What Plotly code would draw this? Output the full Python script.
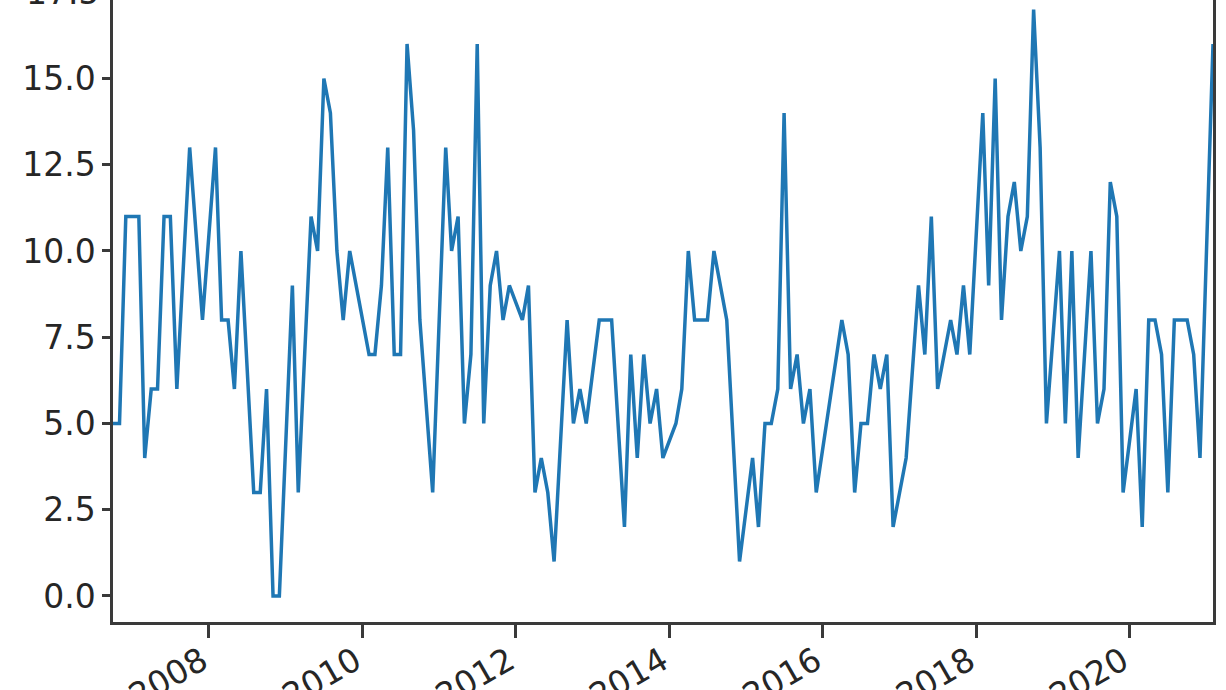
import plotly.graph_objects as go

months = [
    "2006-10", "2006-11", "2006-12", "2007-01", "2007-02", "2007-03", "2007-04", "2007-05",
    "2007-06", "2007-07", "2007-08", "2007-10", "2007-12", "2008-02", "2008-03", "2008-04",
    "2008-05", "2008-06", "2008-08", "2008-09", "2008-10", "2008-11", "2008-12", "2009-02",
    "2009-03", "2009-05", "2009-06", "2009-07", "2009-08", "2009-09", "2009-10", "2009-11",
    "2010-02", "2010-03", "2010-04", "2010-05", "2010-06", "2010-07", "2010-08", "2010-09",
    "2010-10", "2010-12", "2011-02", "2011-03", "2011-04", "2011-05", "2011-06", "2011-07",
    "2011-08", "2011-09", "2011-10", "2011-11", "2011-12", "2012-02", "2012-03", "2012-04",
    "2012-05", "2012-06", "2012-07", "2012-09", "2012-10", "2012-11", "2012-12", "2013-02",
    "2013-03", "2013-04", "2013-06", "2013-07", "2013-08", "2013-09", "2013-10", "2013-11",
    "2013-12", "2014-02", "2014-03", "2014-04", "2014-05", "2014-06", "2014-07", "2014-08",
    "2014-10", "2014-12", "2015-02", "2015-03", "2015-04", "2015-05", "2015-06", "2015-07",
    "2015-08", "2015-09", "2015-10", "2015-11", "2015-12", "2016-04", "2016-05", "2016-06",
    "2016-07", "2016-08", "2016-09", "2016-10", "2016-11", "2016-12", "2017-02", "2017-04",
    "2017-05", "2017-06", "2017-07", "2017-09", "2017-10", "2017-11", "2017-12", "2018-02",
    "2018-03", "2018-04", "2018-05", "2018-06", "2018-07", "2018-08", "2018-09", "2018-10",
    "2018-11", "2018-12", "2019-02", "2019-03", "2019-04", "2019-05", "2019-07", "2019-08",
    "2019-09", "2019-10", "2019-11", "2019-12", "2020-02", "2020-03", "2020-04", "2020-05",
    "2020-06", "2020-07", "2020-08", "2020-10", "2020-11", "2020-12", "2021-02",
]
values = [
    5, 5, 11, 11, 11, 4, 6, 6,
    11, 11, 6, 13, 8, 13, 8, 8,
    6, 10, 3, 3, 6, 0, 0, 9,
    3, 11, 10, 15, 14, 10, 8, 10,
    7, 7, 9, 13, 7, 7, 16, 13.5,
    8, 3, 13, 10, 11, 5, 7, 16,
    5, 9, 10, 8, 9, 8, 9, 3,
    4, 3, 1, 8, 5, 6, 5, 8,
    8, 8, 2, 7, 4, 7, 5, 6,
    4, 5, 6, 10, 8, 8, 8, 10,
    8, 1, 4, 2, 5, 5, 6, 14,
    6, 7, 5, 6, 3, 8, 7, 3,
    5, 5, 7, 6, 7, 2, 4, 9,
    7, 11, 6, 8, 7, 9, 7, 14,
    9, 15, 8, 11, 12, 10, 11, 17,
    13, 5, 10, 5, 10, 4, 10, 5,
    6, 12, 11, 3, 6, 2, 8, 8,
    7, 3, 8, 8, 7, 4, 16,
]
y_ticks = [0, 2.5, 5, 7.5, 10, 12.5, 15]
y_tick_text = ["0.0", "2.5", "5.0", "7.5", "10.0", "12.5", "15.0"]
cut_tick_text = "17.5"

dates = [m + "-01" for m in months]

FONT = "DejaVu Sans"
TXT = "#262626"
AX = "#3a3a3a"
FS = 33

fig = go.Figure(
    go.Scatter(
        x=dates, y=values, mode="lines",
        line=dict(color="#1f77b4", width=3.5),
        hoverinfo="x+y",
    )
)

fig.update_layout(
    template="none",
    width=1226, height=690,
    margin=dict(l=113, r=13, t=0, b=68, autoexpand=False),
    paper_bgcolor="white", plot_bgcolor="white",
    showlegend=False,
    font=dict(family=FONT, size=FS, color=TXT),
)

fig.update_xaxes(
    type="date",
    range=[dates[0], dates[-1]],
    tick0="2008-01-01", dtick="M24", tickformat="%Y",
    tickangle=-30,
    ticks="outside", ticklen=13, tickwidth=2.5, tickcolor=AX,
    ticklabelstandoff=-9, ticklabelshift=-7,
    showline=True, linecolor=AX, linewidth=2.5,
    showgrid=False, zeroline=False, automargin=False,
    tickfont=dict(family=FONT, size=FS, color=TXT),
)
fig.update_yaxes(
    range=[-0.754, 17.275],
    tickvals=y_ticks, ticktext=y_tick_text,
    ticks="outside", ticklen=8, tickwidth=2.5, tickcolor=AX,
    showline=True, linecolor=AX, linewidth=2.5, mirror=True,
    showgrid=False, zeroline=False, automargin=False,
    tickfont=dict(family=FONT, size=FS, color=TXT),
)

# the "17.5" tick label sits just above the visible frame and is cut off
fig.add_annotation(
    xref="paper", yref="paper", x=0, y=1 + 7.75 / 622,
    xanchor="right", yanchor="middle", xshift=-12,
    text=cut_tick_text, showarrow=False,
    font=dict(family=FONT, size=FS, color=TXT),
)

fig.write_html(
    "out.html",
    config={"displayModeBar": False},
    post_script="document.body.style.margin='0';",
)
